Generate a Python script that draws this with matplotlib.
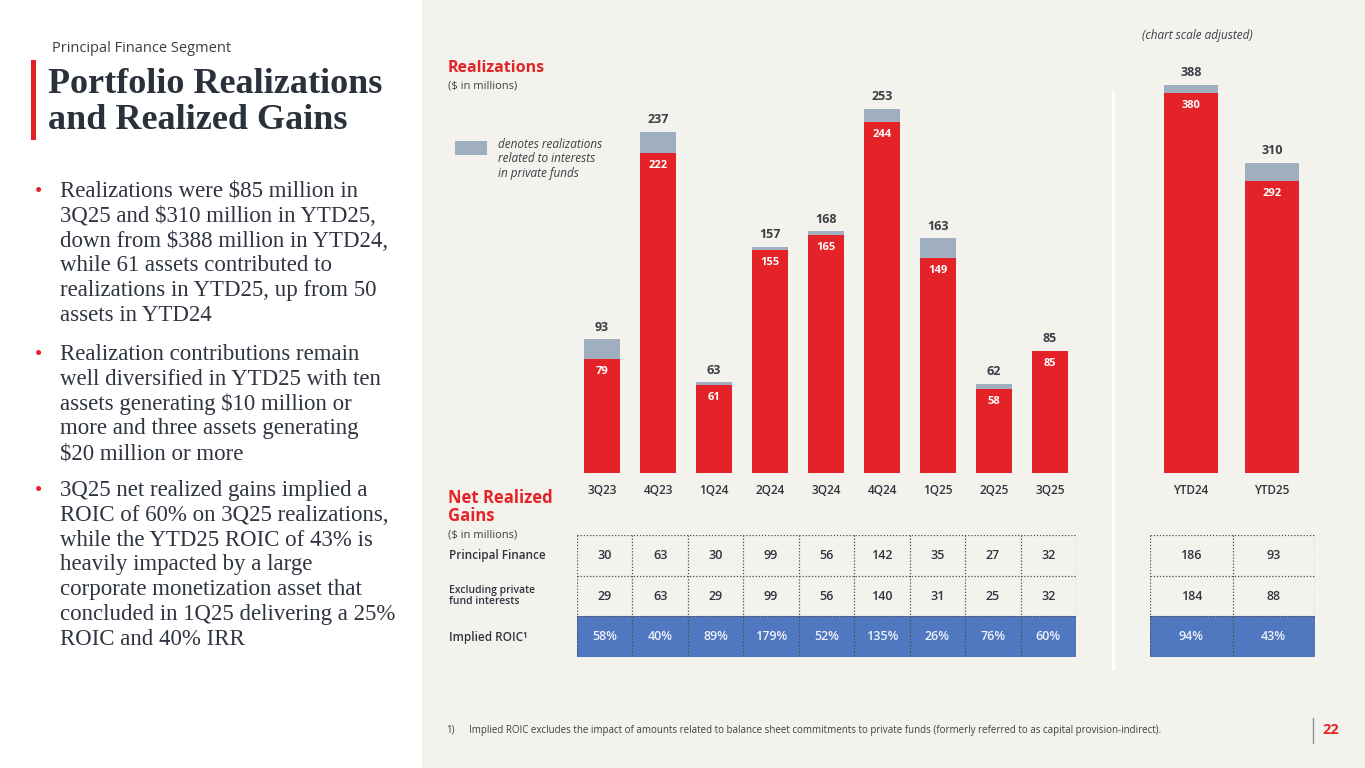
import matplotlib.pyplot as plt
from matplotlib.patches import Rectangle

W, H = 1365, 768

# data
quarters = ['3Q23', '4Q23', '1Q24', '2Q24', '3Q24', '4Q24', '1Q25', '2Q25', '3Q25']
q_total = [93, 237, 63, 157, 168, 253, 163, 62, 85]
q_direct = [79, 222, 61, 155, 165, 244, 149, 58, 85]

ytd = ['YTD24', 'YTD25']
ytd_total = [388, 310]
ytd_direct = [380, 292]

pf_gains = [30, 63, 30, 99, 56, 142, 35, 27, 32]
pf_gains_ytd = [186, 93]
excl_gains = [29, 63, 29, 99, 56, 140, 31, 25, 32]
excl_gains_ytd = [184, 88]
roic = ['58%', '40%', '89%', '179%', '52%', '135%', '26%', '76%', '60%']
roic_ytd = ['94%', '43%']
row_labels = ['Principal Finance', 'Excluding private\nfund interests', 'Implied ROIC\u00b9']

title_lines = ['Portfolio Realizations', 'and Realized Gains']
bullets = [
    ['Realizations were $85 million in',
     '3Q25 and $310 million in YTD25,',
     'down from $388 million in YTD24,',
     'while 61 assets contributed to',
     'realizations in YTD25, up from 50',
     'assets in YTD24'],
    ['Realization contributions remain',
     'well diversified in YTD25 with ten',
     'assets generating $10 million or',
     'more and three assets generating',
     '$20 million or more'],
    ['3Q25 net realized gains implied a',
     'ROIC of 60% on 3Q25 realizations,',
     'while the YTD25 ROIC of 43% is',
     'heavily impacted by a large',
     'corporate monetization asset that',
     'concluded in 1Q25 delivering a 25%',
     'ROIC and 40% IRR'],
]
bullet_starts = [197, 360, 496]

RED = '#E32327'
GREY = '#9FAFC0'
BLUE = '#4F78C0'
DARK = '#2E3440'
MID = '#3A3F47'
BEIGE = '#F4F2EC'
SANS = ['Open Sans', 'DejaVu Sans']
SERIF = ['Liberation Serif', 'DejaVu Serif']


def box(x0, y0, x1, y1):
    return [x0 / W, 1 - y1 / H, (x1 - x0) / W, (y1 - y0) / H]


fig = plt.figure(figsize=(W / 100, H / 100), dpi=100)
fig.patch.set_facecolor('white')

# background / text layer in pixel coords
bg = fig.add_axes([0, 0, 1, 1], zorder=0)
bg.set_xlim(0, W)
bg.set_ylim(H, 0)
bg.axis('off')
bg.add_patch(Rectangle((422, 0), W - 422, H, color=BEIGE, lw=0))
bg.plot([1113, 1113], [93, 668], color='white', lw=2.5)

# left panel
bg.text(52, 48, 'Principal Finance Segment', fontsize=10.5, color=MID,
        family=SANS, va='center')
bg.add_patch(Rectangle((31, 60), 4.5, 80, color=RED, lw=0))
for k, line in enumerate(title_lines):
    bg.text(48, 93 + k * 36, line, fontsize=26, fontweight='bold',
            color='#2A313B', family=SERIF, va='baseline')
for start, lines in zip(bullet_starts, bullets):
    bg.text(35, start, '\u2022', color=RED, fontsize=15, va='baseline',
            family=SERIF)
    for k, line in enumerate(lines):
        bg.text(60, start + k * 24.8, line, fontsize=16.5, color=DARK,
                family=SERIF, va='baseline')

# right panel headings
bg.text(448, 68, 'Realizations', fontsize=11.5, fontweight='bold', color=RED,
        family=SANS, va='center')
bg.text(448, 86, '($ in millions)', fontsize=8, color=MID, family=SANS,
        va='center')
bg.text(448, 507, 'Net Realized\nGains', fontsize=12, fontweight='bold',
        color=RED, family=SANS, va='center', linespacing=1.0)
bg.text(448, 535, '($ in millions)', fontsize=8, color=MID, family=SANS,
        va='center')
bg.text(1197, 36, '(chart scale adjusted)', fontsize=8.5, style='italic',
        color=MID, family=SANS, va='center', ha='center')
bg.add_patch(Rectangle((455, 141), 32, 14, color=GREY, lw=0))
bg.text(498, 159, 'denotes realizations\nrelated to interests\nin private funds',
        fontsize=8.5, style='italic', color=MID, family=SANS, va='center',
        linespacing=1.1)
for y, lab in zip([555, 596, 637], row_labels):
    small = '\n' in lab
    bg.text(449, y, lab, fontsize=7.5 if small else 8.5, fontweight='semibold',
            color=DARK, family=SANS, va='center', linespacing=1.1)

# footnote and page number
bg.text(446, 730, '1)', fontsize=7, color=MID, family=SANS, va='center')
bg.text(469, 730, 'Implied ROIC excludes the impact of amounts related to balance '
        'sheet commitments to private funds (formerly referred to as capital '
        'provision-indirect).', fontsize=7.05, color=MID, family=SANS,
        va='center')
bg.plot([1313, 1313], [718, 743], color='#8A8F96', lw=1)
bg.text(1322, 730, '22', fontsize=10.5, fontweight='bold', color=RED,
        family=SANS, va='center')


def draw_bars(ax, cats, total, direct, width):
    x = list(range(len(cats)))
    priv = [t - d for t, d in zip(total, direct)]
    ax.bar(x, direct, width=width, color=RED, zorder=2)
    ax.bar(x, priv, bottom=direct, width=width, color=GREY, zorder=2)
    for i in x:
        ax.annotate(str(total[i]), (i, total[i]), xytext=(0, 4),
                    textcoords='offset points', ha='center', va='bottom',
                    fontsize=9, fontweight='bold', color=MID, family=SANS)
        ax.annotate(str(direct[i]), (i, direct[i]), xytext=(0, -5),
                    textcoords='offset points', ha='center', va='top',
                    fontsize=8, fontweight='bold', color='white', family=SANS)
    ax.set_xticks(x)
    ax.set_xticklabels(cats, fontsize=8.5, fontweight='semibold', color=DARK,
                       family=SANS)
    ax.tick_params(axis='x', length=0, pad=8)
    ax.set_yticks([])
    ax.set_xlim(-0.5, len(cats) - 0.5)
    ax.set_facecolor('none')
    for s in ax.spines.values():
        s.set_visible(False)


axq = fig.add_axes(box(574, 93, 1078, 473), zorder=2)
draw_bars(axq, quarters, q_total, q_direct, 0.66)
axq.set_ylim(0, 380 / 1.44)

axy = fig.add_axes(box(1150.5, 73, 1312.5, 473), zorder=2)
draw_bars(axy, ytd, ytd_total, ytd_direct, 0.67)
axy.set_ylim(0, 400)


def draw_table(ax, rows, ncol):
    ax.set_xlim(0, ncol)
    ax.set_ylim(3, 0)
    ax.axis('off')
    ax.add_patch(Rectangle((0, 2), ncol, 1, color=BLUE, lw=0))
    dot = dict(color='#4A4A4A', lw=0.9, ls=(0, (1, 1.5)))
    for r in range(4):
        ax.plot([0, ncol], [r, r], **dot)
    for c in range(ncol + 1):
        ax.plot([c, c], [0, 3], **dot)
    for r, vals in enumerate(rows):
        for c, v in enumerate(vals):
            ax.text(c + 0.5, r + 0.5, str(v), ha='center', va='center',
                    fontsize=9, fontweight='semibold',
                    color='#EEF2FA' if r == 2 else DARK, family=SANS)


axt = fig.add_axes(box(577, 535, 1076, 657), zorder=2)
draw_table(axt, [pf_gains, excl_gains, roic], len(quarters))
axt2 = fig.add_axes(box(1150, 535, 1315, 657), zorder=2)
draw_table(axt2, [pf_gains_ytd, excl_gains_ytd, roic_ytd], len(ytd))

fig.savefig('out.png', dpi=100, facecolor=fig.get_facecolor())
